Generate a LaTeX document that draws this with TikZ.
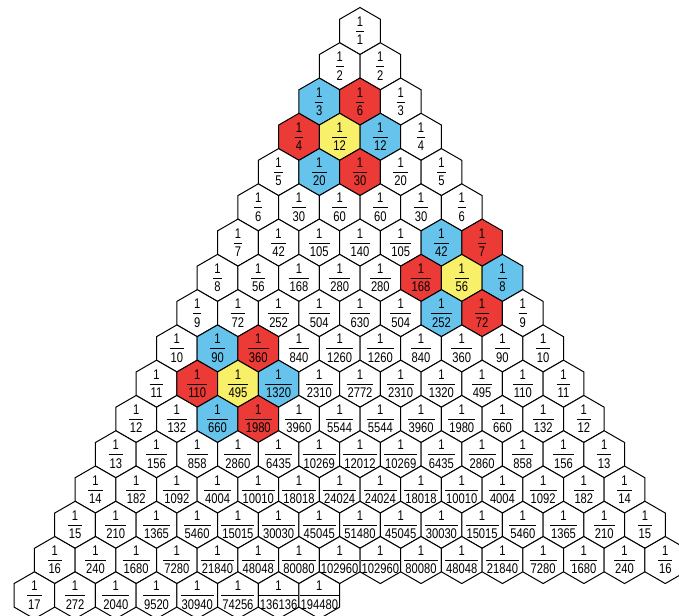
\documentclass[tikz,border=0pt]{standalone}
\usepackage{fontspec}
\setmainfont{Liberation Sans}[FakeStretch=0.8]
\usepackage{tikz}
\usetikzlibrary{shapes.geometric}
\definecolor{hexblue}{HTML}{66C3EC}
\definecolor{hexred}{HTML}{EC3B37}
\definecolor{hexyellow}{HTML}{F9F06A}
% unit fraction set as a small tabular
\newcommand\unitfrac[1]{\begin{tabular}{@{\hspace{1pt}}c@{\hspace{1pt}}}1\\[0pt]\hline\rule{0pt}{13.5pt}#1\end{tabular}}

\begin{document}
\begin{tikzpicture}[
    x=1pt, y=-1pt,
    hexcell/.style={regular polygon, regular polygon sides=6, rotate=30,
                    minimum size=47pt, inner sep=0pt, draw=black, line width=1pt, fill=white},
    fraclabel/.style={inner sep=0pt, yshift=-1.7pt, font=\fontsize{14}{15}\selectfont},
    % highlighted cells: row-position
    cell 3-0/.style={fill=hexblue}, cell 3-1/.style={fill=hexred},
    cell 4-0/.style={fill=hexred}, cell 4-1/.style={fill=hexyellow}, cell 4-2/.style={fill=hexblue},
    cell 5-1/.style={fill=hexblue}, cell 5-2/.style={fill=hexred},
    cell 7-5/.style={fill=hexblue}, cell 7-6/.style={fill=hexred},
    cell 8-5/.style={fill=hexred}, cell 8-6/.style={fill=hexyellow}, cell 8-7/.style={fill=hexblue},
    cell 9-6/.style={fill=hexblue}, cell 9-7/.style={fill=hexred},
    cell 10-1/.style={fill=hexblue}, cell 10-2/.style={fill=hexred},
    cell 11-1/.style={fill=hexred}, cell 11-2/.style={fill=hexyellow}, cell 11-3/.style={fill=hexblue},
    cell 12-2/.style={fill=hexblue}, cell 12-3/.style={fill=hexred},
]
  \useasboundingbox (0,0) rectangle (679,615);
  \clip (0,0) rectangle (679,615);

  % harmonic triangle, row by row
  \foreach \n/\vals in {
      1/{1},
      2/{2,2},
      3/{3,6,3},
      4/{4,12,12,4},
      5/{5,20,30,20,5},
      6/{6,30,60,60,30,6},
      7/{7,42,105,140,105,42,7},
      8/{8,56,168,280,280,168,56,8},
      9/{9,72,252,504,630,504,252,72,9},
      10/{10,90,360,840,1260,1260,840,360,90,10},
      11/{11,110,495,1320,2310,2772,2310,1320,495,110,11},
      12/{12,132,660,1980,3960,5544,5544,3960,1980,660,132,12},
      13/{13,156,858,2860,6435,10269,12012,10269,6435,2860,858,156,13},
      14/{14,182,1092,4004,10010,18018,24024,24024,18018,10010,4004,1092,182,14},
      15/{15,210,1365,5460,15015,30030,45045,51480,45045,30030,15015,5460,1365,210,15},
      16/{16,240,1680,7280,21840,48048,80080,102960,102960,80080,48048,21840,7280,1680,240,16},
      17/{17,272,2040,9520,30940,74256,136136,194480}} {
    \foreach \d [count=\k from 0] in \vals {
      \pgfmathsetmacro\cx{360+(\k-(\n-1)/2)*40.7}
      \pgfmathsetmacro\cy{31+(\n-1)*35.27}
      \node[hexcell, cell \n-\k/.try] (h\n-\k) at (\cx,\cy) {};
      \node[fraclabel] (t\n-\k) at (h\n-\k) {\unitfrac{\d}};
    }
  }
\end{tikzpicture}
\end{document}
